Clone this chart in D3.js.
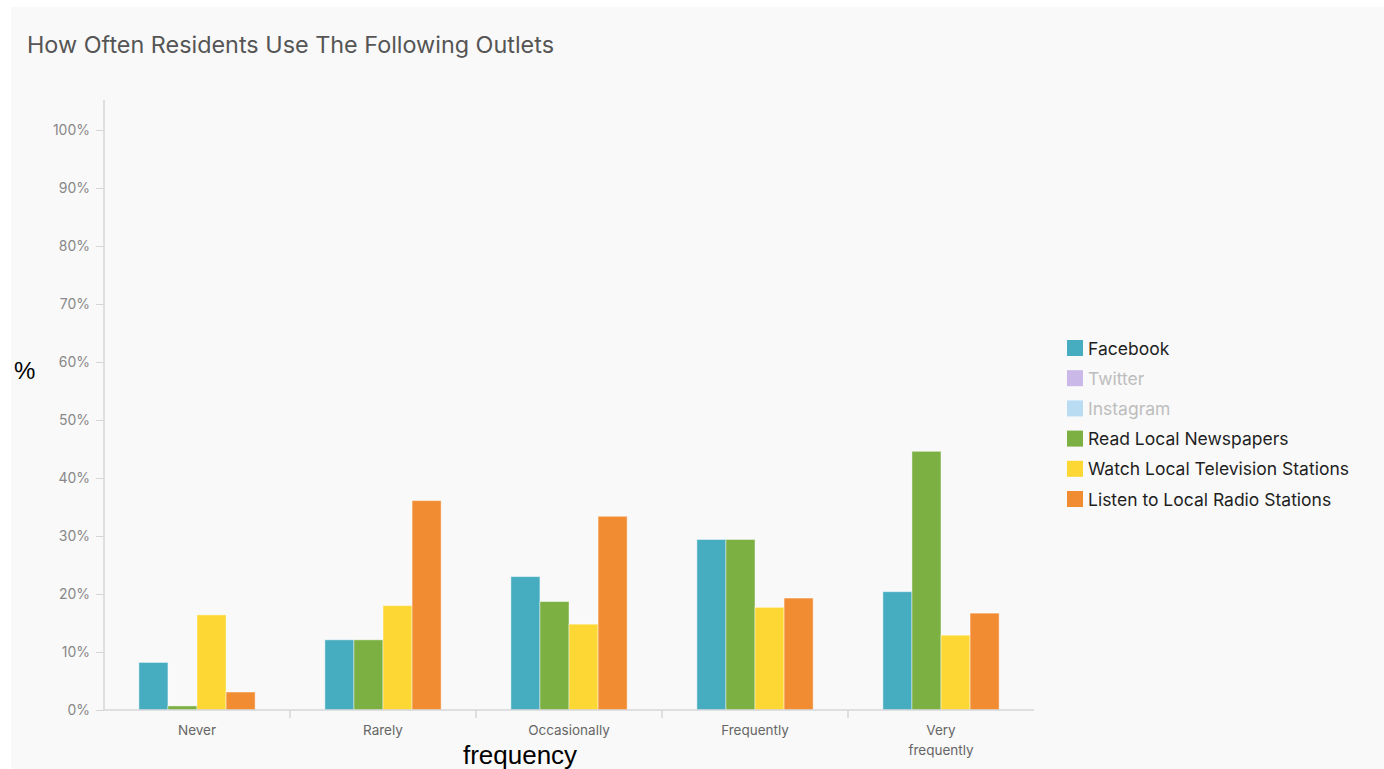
<!DOCTYPE html>
<html>
<head>
<meta charset="utf-8">
<script src="https://cdn.jsdelivr.net/npm/d3@7/dist/d3.min.js"></script>
<style>
  html, body { margin: 0; padding: 0; background: #ffffff; }
  svg { display: block; }
</style>
</head>
<body>
<svg id="chart" width="1384" height="769"></svg>
<script>
// Response categories along the x axis
const categories = ["Never", "Rarely", "Occasionally", "Frequently", "Very frequently"];

// Every outlet in the legend; Twitter and Instagram are switched off
const seriesNames = ["Facebook", "Twitter", "Instagram", "Read Local Newspapers",
                     "Watch Local Television Stations", "Listen to Local Radio Stations"];
const seriesColors = ["#46adc1", "#c9b8e8", "#b9dcf3", "#7cb042", "#fdd835", "#f28c33"];
const seriesActive = [true, false, false, true, true, true];

// Percent of residents per category, one array per outlet
const facebook   = [8.2, 12.1, 23.0, 29.4, 20.4];
const newspapers = [0.7, 12.1, 18.7, 29.4, 44.6];
const television = [16.4, 18.0, 14.8, 17.7, 12.9];
const radio      = [3.1, 36.1, 33.4, 19.3, 16.7];

const yTicks = [0, 10, 20, 30, 40, 50, 60, 70, 80, 90, 100];

const drawn = [
  { name: seriesNames[0], color: seriesColors[0], values: facebook },
  { name: seriesNames[3], color: seriesColors[3], values: newspapers },
  { name: seriesNames[4], color: seriesColors[4], values: television },
  { name: seriesNames[5], color: seriesColors[5], values: radio }
];

const svg = d3.select("#chart");
const uiFont = "Inter, Roboto, sans-serif";

// Panel background
svg.append("rect").attr("x", 11).attr("y", 7).attr("width", 1373).attr("height", 762)
  .attr("fill", "#f9f9f9");

svg.append("text").attr("x", 27).attr("y", 53)
  .attr("font-family", uiFont).attr("font-size", 22.5).attr("fill", "#555")
  .attr("textLength", 527).attr("lengthAdjust", "spacingAndGlyphs")
  .text("How Often Residents Use The Following Outlets");

const plotLeft = 104, plotRight = 1034, plotTop = 130, plotBottom = 710;

const x0 = d3.scaleBand().domain(categories).range([plotLeft, plotRight]).padding(0);
const x1 = d3.scaleBand().domain(drawn.map(d => d.name))
  .range([0, x0.bandwidth()]).paddingInner(0).paddingOuter(1.2);
const y = d3.scaleLinear().domain([0, 100]).range([plotBottom, plotTop]);

// Y axis
const yAxis = svg.append("g").attr("transform", `translate(${plotLeft},0)`)
  .call(d3.axisLeft(y).tickValues(yTicks).tickSize(8).tickPadding(6)
    .tickFormat(d => d + "%"));
yAxis.select(".domain").remove();
yAxis.selectAll(".tick line").attr("stroke", "#d4d6d8");
yAxis.selectAll(".tick text").attr("font-family", uiFont).attr("font-size", 14)
  .attr("fill", "#888");
svg.append("line").attr("x1", plotLeft).attr("x2", plotLeft).attr("y1", 100).attr("y2", plotBottom)
  .attr("stroke", "#d4d6d8").attr("stroke-width", 1.5);

// Bars
const groups = svg.append("g").selectAll("g").data(categories).join("g")
  .attr("transform", d => `translate(${x0(d)},0)`);
groups.selectAll("rect")
  .data((c, i) => drawn.map(s => ({ name: s.name, color: s.color, value: s.values[i] })))
  .join("rect")
  .attr("x", d => x1(d.name))
  .attr("y", d => y(d.value))
  .attr("width", x1.bandwidth())
  .attr("height", d => y(0) - y(d.value))
  .attr("fill", d => d.color)
  .attr("stroke", "rgba(255,255,255,0.45)")
  .attr("stroke-width", 1);

// X axis line and group separators
svg.append("line").attr("x1", plotLeft).attr("x2", plotRight).attr("y1", plotBottom).attr("y2", plotBottom)
  .attr("stroke", "#d4d6d8").attr("stroke-width", 1.5);
svg.append("g").selectAll("line").data(categories.slice(1)).join("line")
  .attr("x1", d => x0(d)).attr("x2", d => x0(d))
  .attr("y1", plotBottom).attr("y2", plotBottom + 8)
  .attr("stroke", "#d4d6d8").attr("stroke-width", 1.5);

// Category labels, wrapped onto two lines when long
const xLabels = svg.append("g").selectAll("text").data(categories).join("text")
  .attr("x", d => x0(d) + x0.bandwidth() / 2)
  .attr("y", 735)
  .attr("text-anchor", "middle")
  .attr("font-family", uiFont).attr("font-size", 13.5).attr("fill", "#666");
xLabels.each(function(d) {
  const words = d.split(" ");
  const t = d3.select(this);
  if (words.length > 1 && d.length > 12) {
    words.forEach((w, i) => t.append("tspan")
      .attr("x", t.attr("x")).attr("dy", i === 0 ? 0 : 20).text(w));
  } else {
    t.text(d);
  }
});

// Legend
const legend = svg.append("g").attr("transform", "translate(1067,340)");
const items = legend.selectAll("g").data(seriesNames).join("g")
  .attr("transform", (d, i) => `translate(0,${i * 30.2})`);
items.append("rect").attr("width", 16).attr("height", 16)
  .attr("fill", (d, i) => seriesColors[i]);
items.append("text").attr("x", 21).attr("y", 14.5)
  .attr("font-family", uiFont).attr("font-size", 17.5)
  .attr("fill", (d, i) => seriesActive[i] ? "#1f1f1f" : "#bdbdbd")
  .text(d => d);

// Axis titles
svg.append("text").attr("x", 14).attr("y", 379)
  .attr("font-family", "'Liberation Sans', Arial, sans-serif").attr("font-size", 24)
  .attr("fill", "#000").text("%");
svg.append("text").attr("x", 520).attr("y", 764).attr("text-anchor", "middle")
  .attr("font-family", "'Liberation Sans', Arial, sans-serif").attr("font-size", 26)
  .attr("fill", "#000").text("frequency");
</script>
</body>
</html>
